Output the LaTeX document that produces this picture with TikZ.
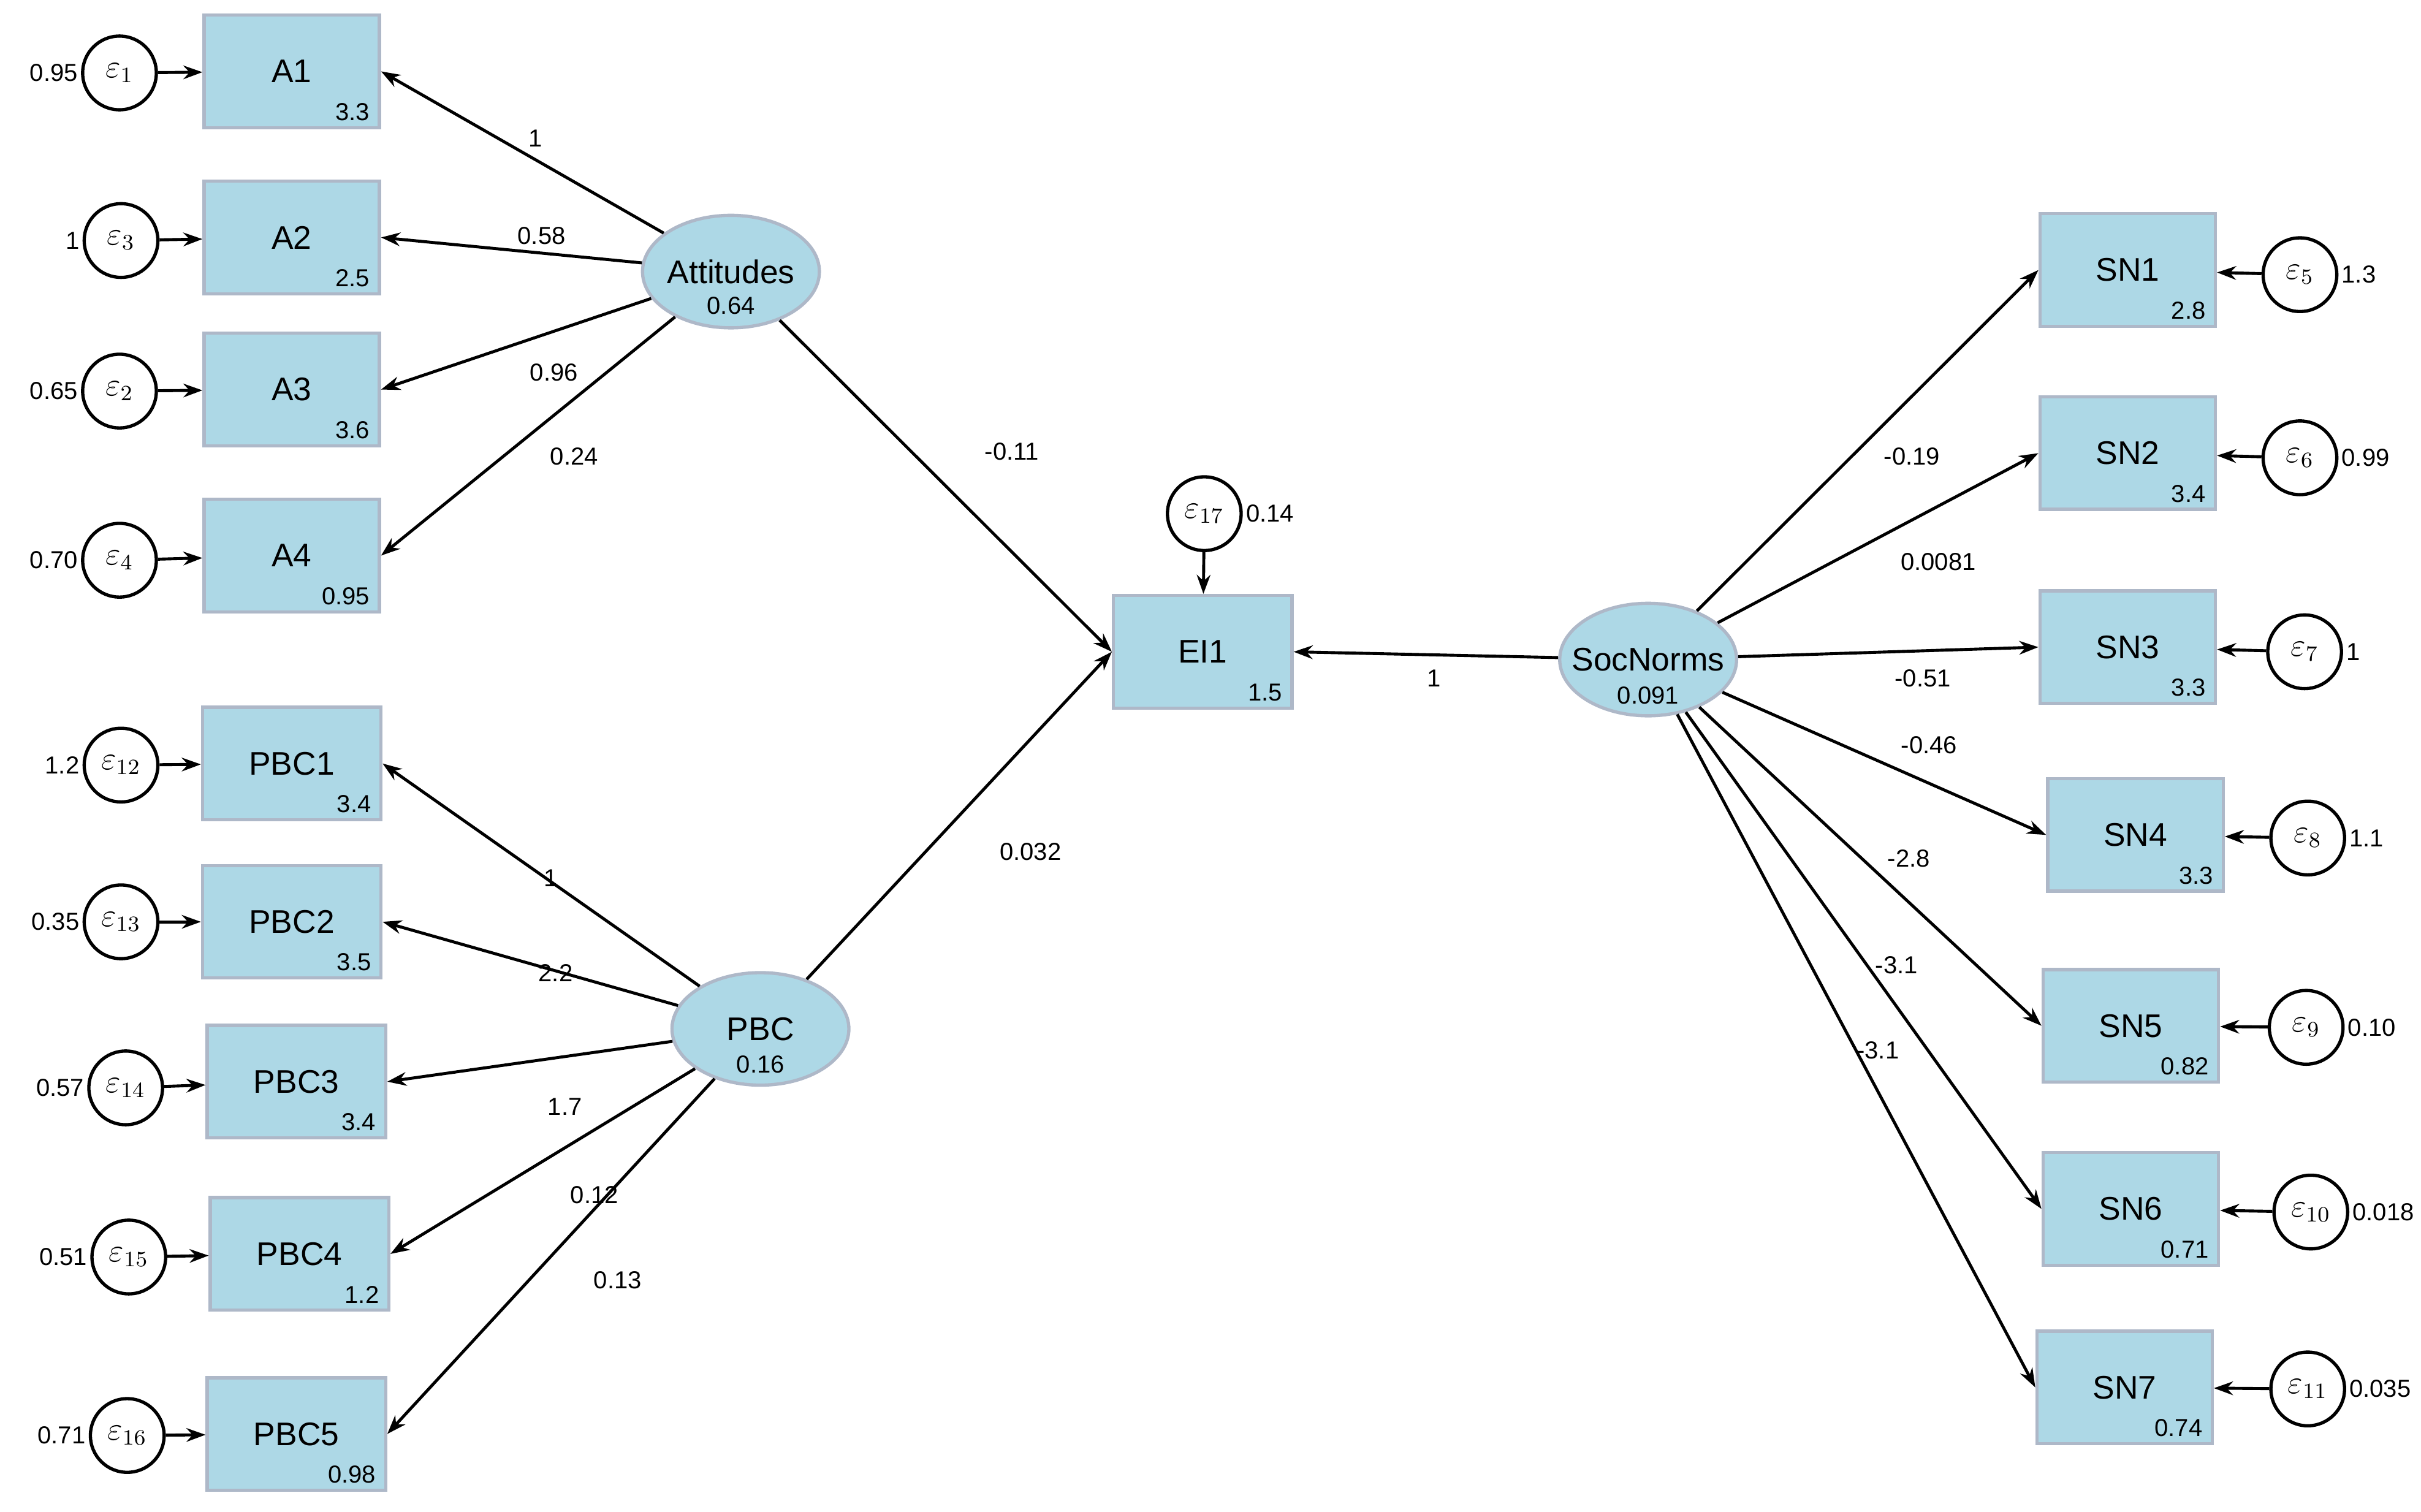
\documentclass[tikz,border=0pt]{standalone}
\usepackage{fontspec}
\setmainfont{Liberation Sans}
\usetikzlibrary{arrows.meta,shapes.geometric}
\definecolor{lb}{HTML}{ADD8E6}
\definecolor{bd}{HTML}{AEB8C8}
\begin{document}
\begin{tikzpicture}[x=0.02cm,y=-0.02cm,
 box/.style={draw=bd,line width=1.2pt,fill=lb,minimum height=1.45cm,inner sep=0pt,font=\fontsize{12}{12}\selectfont},
 lat/.style={ellipse,draw=bd,line width=1.2pt,fill=lb,minimum width=2.28cm,minimum height=1.45cm,inner sep=0pt,font=\fontsize{12}{12}\selectfont},
 err/.style={circle,draw,line width=1.2pt,fill=white,minimum size=0.95cm,inner sep=0pt,font=\fontsize{12}{12}\selectfont},
 sm/.style={font=\fontsize{9}{9}\selectfont,inner sep=1pt},
 el/.style={font=\fontsize{9}{9}\selectfont,inner sep=1pt},
 ar/.style={-{Stealth[length=7pt,width=5pt]},line width=1.1pt}]
\useasboundingbox (0,0) rectangle (1560,974);
% boxes
\foreach \n/\t/\x/\y/\v/\w in {A1/A1/188/46/3.3/113,A2/A2/188/153/2.5/113,A3/A3/188/251/3.6/113,A4/A4/188/358/0.95/113,
 P1/PBC1/188/492/3.4/115,P2/PBC2/188/594/3.5/115,P3/PBC3/191/697/3.4/115,P4/PBC4/193/808/1.2/115,P5/PBC5/191/924/0.98/115,
 EI/EI1/775/420/1.5/115,
 S1/SN1/1371/174/2.8/113,S2/SN2/1371/292/3.4/113,S3/SN3/1371/417/3.3/113,S4/SN4/1376/538/3.3/113,S5/SN5/1373/661/0.82/113,S6/SN6/1373/779/0.71/113,S7/SN7/1369/894/0.74/113}{
 \node[box,minimum width=\w*0.02cm] (\n) at (\x,\y) {\t};
 \node[sm,anchor=south east] (\n v) at ([xshift=-3pt,yshift=2pt]\n.south east) {\v};
}
% latent
\node[lat] (att) at (471,175) {};
\node[font=\fontsize{12}{12}\selectfont,inner sep=0pt] (attl) at (471,175) {Attitudes};
\node[sm] (attv) at (471,197) {0.64};
\node[lat] (pbc) at (490,663) {};
\node[font=\fontsize{12}{12}\selectfont,inner sep=0pt] (pbcl) at (490,663) {PBC};
\node[sm] (pbcv) at (490,686) {0.16};
\node[lat] (sn) at (1062,425) {};
\node[font=\fontsize{12}{12}\selectfont,inner sep=0pt] (snl) at (1062,425) {SocNorms};
\node[sm] (snv) at (1062,448) {0.091};
% errors left
\foreach \e/\s/\x/\y/\v/\b in {e1/1/77/47/0.95/A1,e3/3/78/155/1/A2,e2/2/77/252/0.65/A3,e4/4/77/361/0.70/A4,
 e12/12/78/493/1.2/P1,e13/13/78/594/0.35/P2,e14/14/81/701/0.57/P3,e15/15/83/810/0.51/P4,e16/16/82/925/0.71/P5}{
 \node[err] (\e) at (\x,\y) {$\varepsilon_{\s}$};
 \node[sm,anchor=east] (\e v) at (\e.west) {\v};
 \draw[ar] (\e) -- (\b);
}
\foreach \e/\s/\x/\y/\v/\b in {e5/5/1482/177/1.3/S1,e6/6/1482/295/0.99/S2,e7/7/1485/420/1/S3,e8/8/1487/540/1.1/S4,
 e9/9/1486/662/0.10/S5,e10/10/1489/781/0.018/S6,e11/11/1487/895/0.035/S7}{
 \node[err] (\e) at (\x,\y) {$\varepsilon_{\s}$};
 \node[sm,anchor=west] (\e v) at (\e.east) {\v};
 \draw[ar] (\e) -- (\b);
}
\node[err] (e17) at (776,331) {$\varepsilon_{17}$};
\node[sm,anchor=west] (e17v) at (e17.east) {0.14};
\draw[ar] (e17) -- (EI);
% structural
\draw[ar] (att) -- (A1.east);
\draw[ar] (att) -- (A2.east);
\draw[ar] (att) -- (A3.east);
\draw[ar] (att) -- (A4.east);
\draw[ar] (pbc) -- (P1.east);
\draw[ar] (pbc) -- (P2.east);
\draw[ar] (pbc) -- (P3.east);
\draw[ar] (pbc) -- (P4.east);
\draw[ar] (pbc) -- (P5.east);
\draw[ar] (att) -- (EI.west);
\draw[ar] (pbc) -- (EI.west);
\draw[ar] (sn) -- (EI.east);
\foreach \b in {S1,S2,S3,S4,S5,S6,S7}{\draw[ar] (sn) -- (\b.west);}
% edge labels
\foreach \t/\x/\y [count=\i] in {1/345/89,0.58/349/152,0.96/357/240,0.24/370/294,-0.11/652/291,0.032/664/549,1/924/437,
 1/355/566,2.2/358/627,1.7/364/713,0.12/383/770,0.13/398/825,
 -0.19/1232/294,0.0081/1249/362,-0.51/1239/437,-0.46/1243/480,-2.8/1230/553,-3.1/1222/622,-3.1/1210/677}{
 \node[el] (l\i) at (\x,\y) {\t};
}
\end{tikzpicture}
\end{document}
